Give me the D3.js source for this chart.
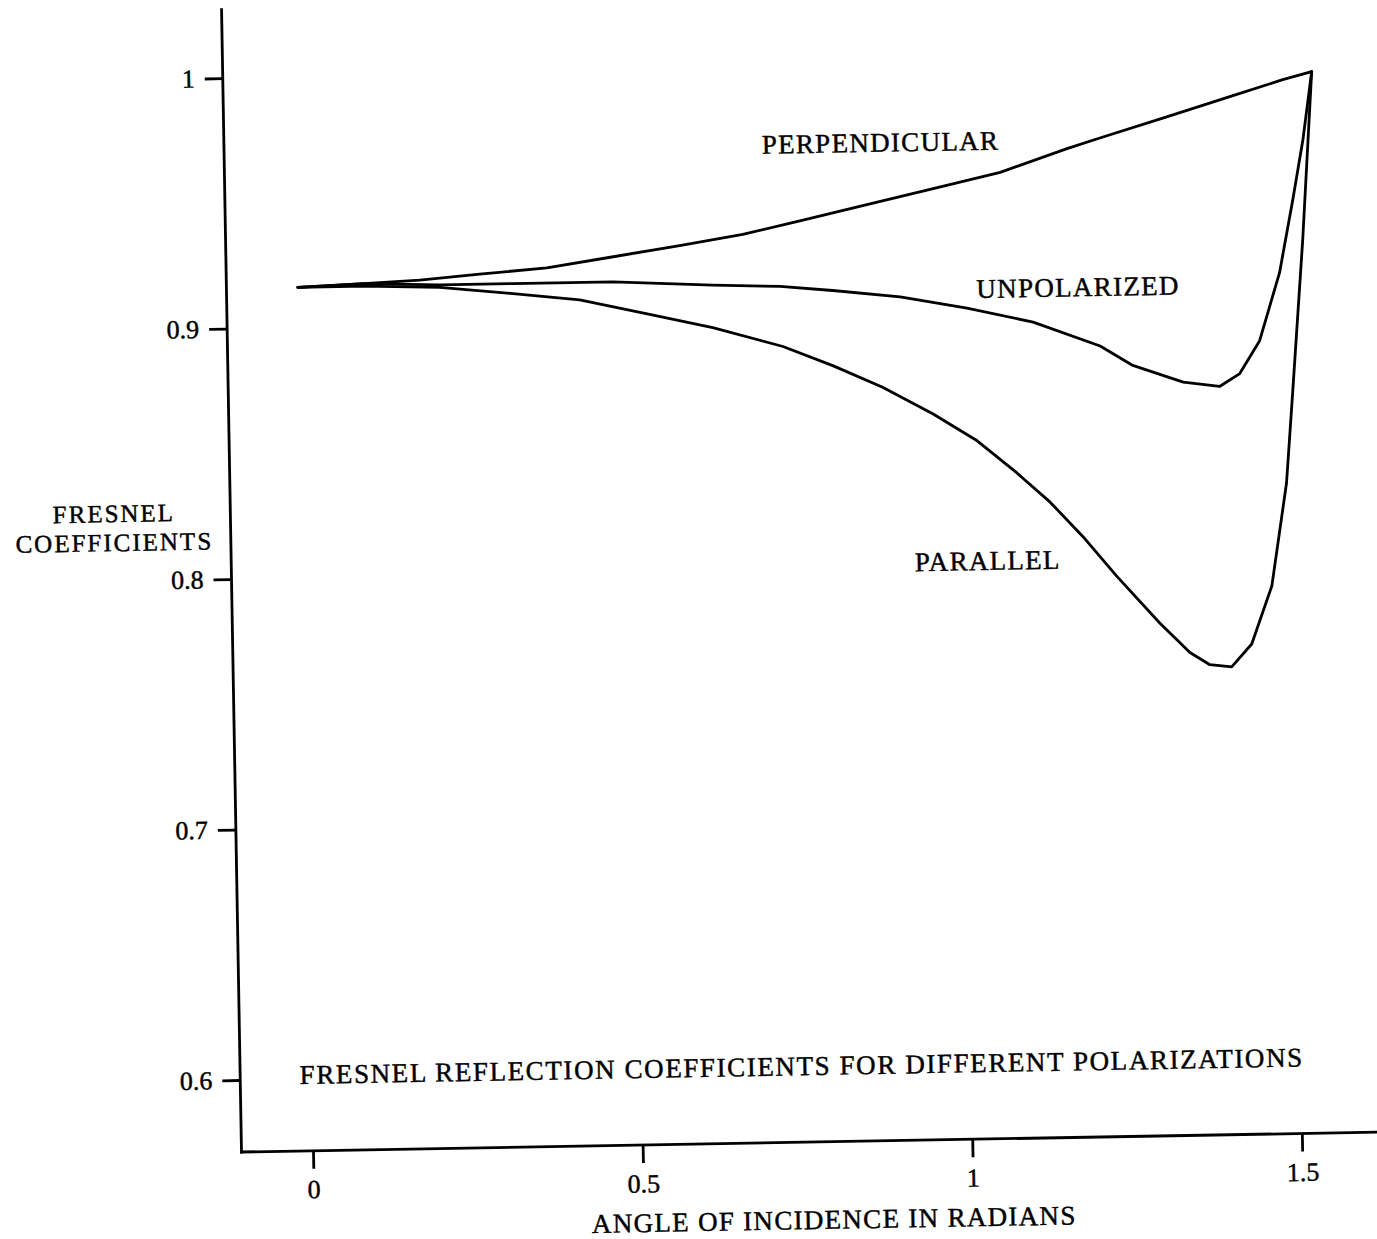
<!DOCTYPE html>
<html><head><meta charset="utf-8">
<script src="https://cdn.jsdelivr.net/npm/d3@7"></script>
<style>
body{margin:0;background:#fff}
text{font-family:"Liberation Serif","Times New Roman",serif;fill:#000;stroke:#000;stroke-width:0.45px}
</style>
</head><body><svg id="c" width="1377" height="1239"></svg>
<script>
// ---- data ----
const xTicks = [0, 0.5, 1, 1.5];
const xTickLabels = ["0", "0.5", "1", "1.5"];
const yTicks = [0.6, 0.7, 0.8, 0.9, 1];
const yTickLabels = ["0.6", "0.7", "0.8", "0.9", "1"];

const perpAngle = [0, 0.1, 0.185, 0.276, 0.378, 0.479, 0.580, 0.676, 0.763, 0.865, 0.966, 1.068, 1.170, 1.220, 1.322, 1.423, 1.499, 1.543];
const perpValue = [0.916, 0.917, 0.918, 0.920, 0.922, 0.926, 0.930, 0.934, 0.939, 0.945, 0.951, 0.957, 0.966, 0.970, 0.978, 0.986, 0.992, 0.995];

const unpolAngle = [0, 0.1, 0.215, 0.326, 0.478, 0.629, 0.731, 0.811, 0.913, 1.014, 1.114, 1.215, 1.264, 1.340, 1.395, 1.426, 1.457, 1.489, 1.511, 1.528, 1.543];
const unpolValue = [0.916, 0.917, 0.916, 0.916, 0.916, 0.914, 0.913, 0.911, 0.908, 0.903, 0.897, 0.887, 0.879, 0.872, 0.870, 0.875, 0.888, 0.915, 0.944, 0.968, 0.995];

const parAngle = [0, 0.1, 0.215, 0.326, 0.427, 0.529, 0.628, 0.734, 0.809, 0.884, 0.960, 1.026, 1.085, 1.135, 1.184, 1.234, 1.298, 1.343, 1.373, 1.406, 1.437, 1.469, 1.494, 1.506, 1.525, 1.543];
const parValue = [0.916, 0.916, 0.915, 0.912, 0.909, 0.903, 0.897, 0.889, 0.881, 0.872, 0.861, 0.850, 0.837, 0.825, 0.811, 0.795, 0.776, 0.764, 0.759, 0.758, 0.767, 0.790, 0.831, 0.868, 0.928, 0.995];

const seriesNames = ["PERPENDICULAR", "UNPOLARIZED", "PARALLEL"];
const yTitle = ["FRESNEL", "COEFFICIENTS"];
const xTitle = "ANGLE OF INCIDENCE IN RADIANS";
const chartNote = "FRESNEL REFLECTION COEFFICIENTS FOR DIFFERENT POLARIZATIONS";

// ---- drawing ----
const W = 1377, H = 1239;
const svg = d3.select("#c");
svg.append("rect").attr("width", W).attr("height", H).attr("fill", "#fff");

const ox = 241.5, oy = 1152;
const g = svg.append("g").attr("transform", `rotate(-1,${ox},${oy})`);

const x = d3.scaleLinear().domain([0, 1.5]).range([313, 1302]);
const y = d3.scaleLinear().domain([0.6, 1]).range([1080, 78]);

const SW = 2.8;
// axis lines
g.append("line").attr("x1", ox).attr("x2", ox).attr("y1", 8).attr("y2", oy + SW / 2)
  .attr("stroke", "#000").attr("stroke-width", SW);
g.append("line").attr("x1", ox - SW / 2).attr("x2", 1420).attr("y1", oy).attr("y2", oy)
  .attr("stroke", "#000").attr("stroke-width", SW);

const xAxis = d3.axisBottom(x).tickValues(xTicks)
  .tickFormat((d, i) => xTickLabels[i]).tickSize(18).tickPadding(11);
const gx = g.append("g").attr("transform", `translate(0,${oy})`).call(xAxis);
gx.select(".domain").remove();
gx.selectAll(".tick line").attr("stroke", "#000").attr("stroke-width", SW);
gx.selectAll(".tick text").attr("font-size", 26).attr("font-family", "Liberation Serif").attr("fill", "#000");

const yAxis = d3.axisLeft(y).tickValues(yTicks)
  .tickFormat((d, i) => yTickLabels[i]).tickSize(18).tickPadding(10);
const gy = g.append("g").attr("transform", `translate(${ox},0)`).call(yAxis);
gy.select(".domain").remove();
gy.selectAll(".tick line").attr("stroke", "#000").attr("stroke-width", SW);
gy.selectAll(".tick text").attr("font-size", 26).attr("font-family", "Liberation Serif").attr("fill", "#000");

// curves
const line = d3.line().x(d => x(d[0])).y(d => y(d[1])).curve(d3.curveLinear);
const series = [d3.zip(perpAngle, perpValue), d3.zip(unpolAngle, unpolValue), d3.zip(parAngle, parValue)];
g.selectAll("path.curve").data(series).enter().append("path")
  .attr("class", "curve").attr("d", line)
  .attr("fill", "none").attr("stroke", "#000").attr("stroke-width", SW)
  .attr("stroke-linejoin", "round").attr("stroke-linecap", "round");

// labels
const FS = 27, LS = "1.3px";
const labelPos = [[898, 163], [1093, 311], [998, 583]];
seriesNames.forEach((n, i) => {
  g.append("text").attr("x", labelPos[i][0]).attr("y", labelPos[i][1])
    .attr("text-anchor", "middle").attr("font-size", FS).style("letter-spacing", LS).text(n);
});
yTitle.forEach((t, i) => {
  g.append("text").attr("x", 125).attr("y", 520 + i * 29)
    .attr("text-anchor", "middle").attr("font-size", 25).style("letter-spacing", "2px").text(t);
});
g.append("text").attr("x", 833).attr("y", 1239).attr("text-anchor", "middle")
  .attr("font-size", FS).style("letter-spacing", LS).text(xTitle);
g.append("text").attr("x", 301).attr("y", 1085).attr("text-anchor", "start")
  .attr("font-size", FS).style("letter-spacing", "1.6px").text(chartNote);
</script>
</body></html>
